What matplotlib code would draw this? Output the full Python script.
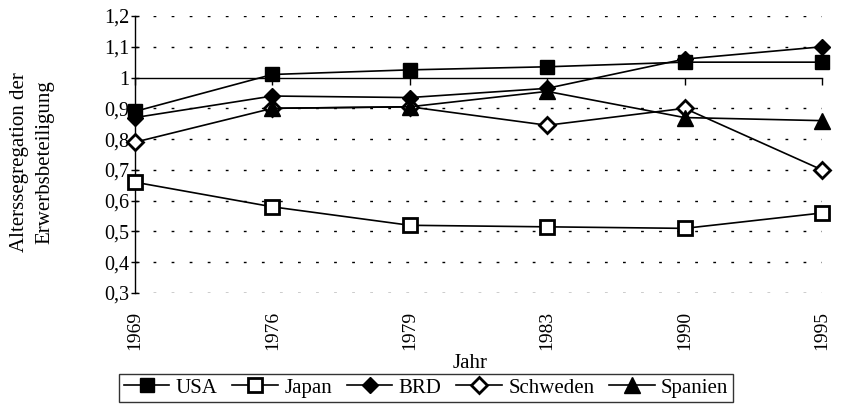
import numpy as np
import matplotlib
matplotlib.use("Agg")
import matplotlib.pyplot as plt

plt.rcParams['font.family'] = ['Liberation Serif', 'DejaVu Serif']

years = ["1969", "1976", "1979", "1983", "1990", "1995"]
usa = [0.89, 1.01, 1.025, 1.035, 1.05, 1.05]
japan = [0.66, 0.58, 0.52, 0.515, 0.51, 0.56]
brd = [0.87, 0.94, 0.935, 0.965, 1.06, 1.10]
schweden = [0.79, 0.90, 0.905, 0.845, 0.90, 0.70]
spanien = [np.nan, 0.90, 0.905, 0.955, 0.87, 0.86]

yticks = [0.3, 0.4, 0.5, 0.6, 0.7, 0.8, 0.9, 1.0, 1.1, 1.2]
ytick_labels = ["0,3", "0,4", "0,5", "0,6", "0,7", "0,8", "0,9", "1", "1,1", "1,2"]

fig = plt.figure(figsize=(8.57, 4.11), dpi=100)
ax = fig.add_axes([135/857, 1-293/411, (822-135)/857, (293-16)/411])

x = np.arange(len(years))
lw = 1.2
series = [
    ("USA", usa, dict(marker='s', markersize=10, markerfacecolor='black', markeredgecolor='black')),
    ("Japan", japan, dict(marker='s', markersize=10, markerfacecolor='white', markeredgecolor='black', markeredgewidth=2)),
    ("BRD", brd, dict(marker='D', markersize=8, markerfacecolor='black', markeredgecolor='black')),
    ("Schweden", schweden, dict(marker='D', markersize=8, markerfacecolor='white', markeredgecolor='black', markeredgewidth=2)),
    ("Spanien", spanien, dict(marker='^', markersize=11, markerfacecolor='black', markeredgecolor='black')),
]
handles = []
for name, vals, st in series:
    h, = ax.plot(x, vals, color='black', linewidth=lw, label=name, clip_on=False, zorder=3, **st)
    handles.append(h)

ax.set_xlim(0, 5)
ax.set_ylim(0.3, 1.2)
ax.set_yticks(yticks)
ax.set_yticklabels(ytick_labels, fontsize=14.5)
ax.tick_params(axis='y', direction='inout', length=6, width=1, pad=1)
for yv in yticks:
    if abs(yv - 1.0) > 1e-9:
        ax.axhline(yv, color='black', linewidth=1, linestyle=(0, (2, 11)), zorder=1)

ax.spines['top'].set_visible(False)
ax.spines['right'].set_visible(False)
ax.spines['left'].set_linewidth(1)
ax.spines['bottom'].set_position(('data', 1.0))
ax.spines['bottom'].set_linewidth(1)
ax.set_xticks(x)
ax.tick_params(axis='x', direction='out', length=5, width=1, labelbottom=False)

sec = ax.secondary_xaxis('bottom')
sec.set_xticks(x)
sec.set_xticklabels(years, rotation=90, fontsize=14)
sec.tick_params(length=0, pad=13)
sec.spines['bottom'].set_visible(False)

fig.text(470/857, 1-363/411, "Jahr", ha='center', va='center', fontsize=15)

fig.text(32/857, 1-162/411, "Alterssegregation der\nErwerbsbeteiligung", rotation=90,
         ha='center', va='center', fontsize=15, linespacing=1.45)

leg = fig.legend(handles=handles, loc='center', bbox_to_anchor=(426/857, 1-388/411), ncol=5,
                 frameon=True, fancybox=False, fontsize=15, handlelength=2.2,
                 columnspacing=0.7, handletextpad=0.3, borderpad=0.2, borderaxespad=0)
leg.get_frame().set_edgecolor('black')
leg.get_frame().set_linewidth(1)

fig.savefig("out.png", dpi=100)
